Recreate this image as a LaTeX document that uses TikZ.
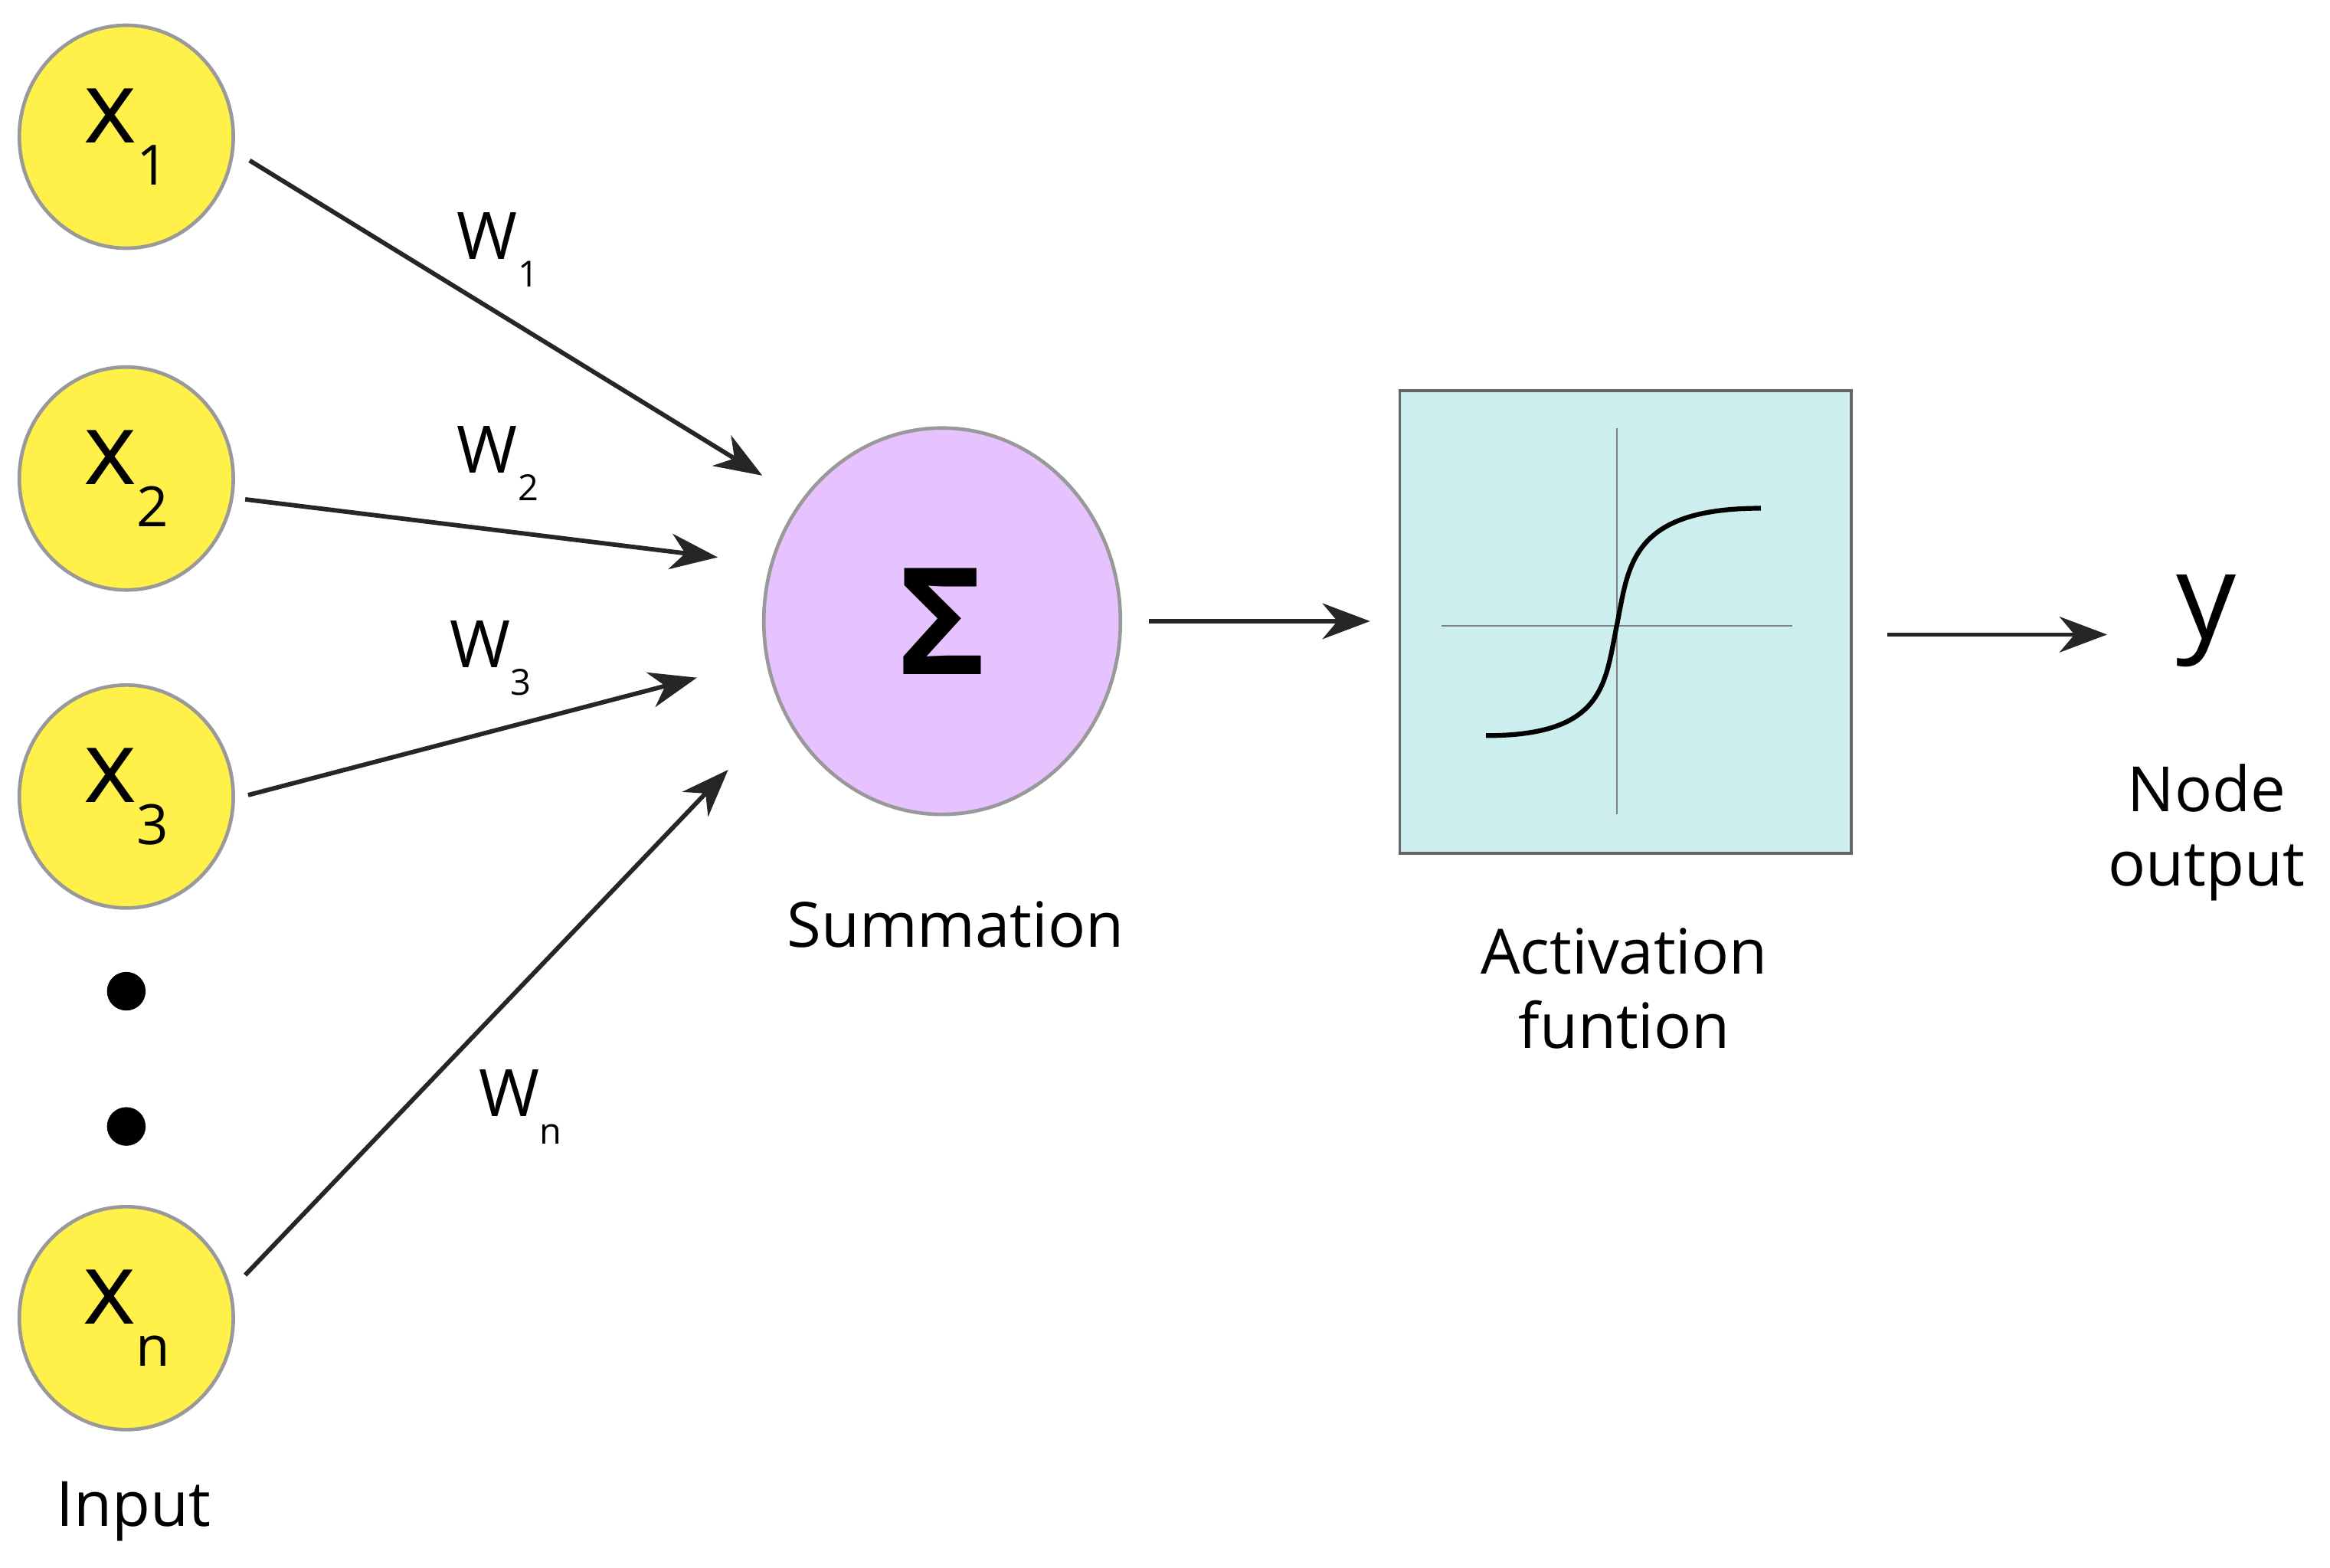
\documentclass[tikz,border=0pt]{standalone}
\usepackage{fontspec}
\setmainfont{Open Sans}
\usetikzlibrary{arrows.meta,shapes.geometric}
\definecolor{inyel}{HTML}{FFF04A}
\definecolor{sumpur}{HTML}{E6C3FF}
\definecolor{actcy}{HTML}{CCEEEE}
\newcommand\subx[3]{\fontsize{#3}{#3}\selectfont #1\raisebox{-0.42em}{\fontsize{0.55\dimexpr #3\relax}{1pt}\selectfont #2}}
\begin{document}
\begin{tikzpicture}[x=0.5pt,y=-0.5pt,
  inp/.style={ellipse,draw=gray!80,line width=1.2pt,fill=inyel,minimum width=72pt,minimum height=75pt,inner sep=0pt},
  arr/.style={line width=1.5pt,draw=black!85,-{Stealth[length=16pt,width=12pt,inset=5pt]}},
  lbl/.style={font=\fontsize{21}{25}\selectfont,align=center},
  wl/.style={inner sep=0pt}]
\useasboundingbox (0,0) rectangle (1568,1055);
\node[inp] (x1) at (85,92) {\subx{x}{1}{34pt}};
\node[inp] (x2) at (85,322) {\subx{x}{2}{34pt}};
\node[inp] (x3) at (85,536) {\subx{x}{3}{34pt}};
\node[inp] (xn) at (85,887) {\subx{x}{n}{34pt}};
\fill (85,667) circle (6.5pt) (85,758) circle (6.5pt);
\node[ellipse,draw=gray!80,line width=1.2pt,fill=sumpur,minimum width=120pt,minimum height=130pt] (sum) at (634,418) {\fontsize{50}{50}\selectfont\bfseries Σ};
\node[draw=gray!80!black,line width=1pt,fill=actcy,minimum width=152pt,minimum height=155.5pt,inner sep=0pt] (act) at (1094,418.5) {};
\draw[gray,line width=0.6pt] (970,421) -- (1206,421) (1088,288) -- (1088,548);
\draw[line width=1.6pt] (1000,495) .. controls (1080,495) and (1080,460) .. (1088,421) .. controls (1096,382) and (1096,342) .. (1185,342);
\node[font=\fontsize{40}{40}\selectfont] (y) at (1485,418) {y};
\coordinate (a1s) at (168,108); \coordinate (a1e) at (513,320);
\coordinate (a2s) at (165,336); \coordinate (a2e) at (483,375);
\coordinate (a3s) at (167,535); \coordinate (a3e) at (469,456);
\coordinate (ans) at (165,858); \coordinate (ane) at (490,518);
\coordinate (bs) at (773,418); \coordinate (be) at (922,418);
\coordinate (cs) at (1270,427); \coordinate (ce) at (1418,427);
\draw[arr] (a1s) -- (a1e);
\draw[arr] (a2s) -- (a2e);
\draw[arr] (a3s) -- (a3e);
\draw[arr] (ans) -- (ane);
\draw[arr] (bs) -- (be);
\draw[arr] (cs) -- (ce);
\node[wl] (w1) at (335,168) {\subx{W}{1}{22pt}};
\node[wl] (w2) at (335,312) {\subx{W}{2}{22pt}};
\node[wl] (w3) at (330,443) {\subx{W}{3}{22pt}};
\node[wl] (wn) at (350,745) {\subx{W}{n}{22pt}};
\node[lbl] (lsum) at (643,622) {Summation};
\node[lbl] (lact) at (1093,665) {Activation\\funtion};
\node[lbl] (lout) at (1485,560) {Node\\output};
\node[lbl] (lin) at (90,1017) {Input};
\end{tikzpicture}
\end{document}
